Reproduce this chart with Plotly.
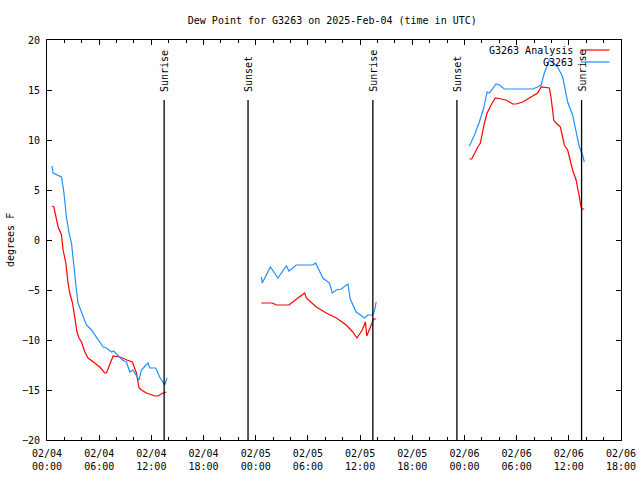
import plotly.graph_objects as go

# ---------------- data ----------------
series_names = ["G3263 Analysis", "G3263"]

analysis_times = [
    "2025-02-04 00:35", "2025-02-04 00:47", "2025-02-04 01:17", "2025-02-04 01:40", "2025-02-04 01:51",
    "2025-02-04 02:10", "2025-02-04 02:25", "2025-02-04 02:37", "2025-02-04 02:56", "2025-02-04 03:12",
    "2025-02-04 03:27", "2025-02-04 03:41", "2025-02-04 03:58", "2025-02-04 04:21", "2025-02-04 04:43",
    "2025-02-04 05:29", "2025-02-04 06:04", "2025-02-04 06:38", "2025-02-04 06:50", "2025-02-04 07:36",
    "2025-02-04 08:22", "2025-02-04 09:12", "2025-02-04 09:49", "2025-02-04 10:17", "2025-02-04 10:35",
    "2025-02-04 10:51", "2025-02-04 11:26", "2025-02-04 12:23", "2025-02-04 12:46", "2025-02-04 13:20",
    "2025-02-04 13:44",
    "2025-02-04 19:00",
    "2025-02-05 00:39", "2025-02-05 01:54", "2025-02-05 02:22", "2025-02-05 03:49", "2025-02-05 04:51",
    "2025-02-05 05:37", "2025-02-05 05:49", "2025-02-05 06:58", "2025-02-05 08:07", "2025-02-05 09:16",
    "2025-02-05 10:24", "2025-02-05 11:10", "2025-02-05 11:38", "2025-02-05 12:15", "2025-02-05 12:37",
    "2025-02-05 12:46", "2025-02-05 13:17", "2025-02-05 13:33", "2025-02-05 13:51",
    "2025-02-05 19:00",
    "2025-02-06 00:34", "2025-02-06 00:50", "2025-02-06 01:32", "2025-02-06 01:50", "2025-02-06 02:18",
    "2025-02-06 02:36", "2025-02-06 03:04", "2025-02-06 03:32", "2025-02-06 04:13", "2025-02-06 04:47",
    "2025-02-06 05:33", "2025-02-06 05:56", "2025-02-06 06:42", "2025-02-06 07:16", "2025-02-06 07:51",
    "2025-02-06 08:25", "2025-02-06 08:49", "2025-02-06 09:46", "2025-02-06 09:58", "2025-02-06 10:16",
    "2025-02-06 10:32", "2025-02-06 11:02", "2025-02-06 11:29", "2025-02-06 11:52", "2025-02-06 12:26",
    "2025-02-06 12:50", "2025-02-06 13:13", "2025-02-06 13:24", "2025-02-06 13:35", "2025-02-06 13:47",
]
analysis_values = [
    3.4, 3.3, 1.3, 0.5, -1.0,
    -2.3, -4.3, -5.3, -6.3, -8.0,
    -9.2, -9.8, -10.2, -11.2, -11.8,
    -12.3, -12.7, -13.3, -13.3, -11.6,
    -11.7, -12.0, -12.2, -13.3, -14.8,
    -15.0, -15.3, -15.6, -15.6, -15.3,
    -15.2,
    None,
    -6.3, -6.3, -6.5, -6.5, -5.8,
    -5.3, -5.8, -6.7, -7.3, -7.8,
    -8.5, -9.2, -9.8, -9.0, -8.2,
    -9.6, -8.5, -7.9, -7.9,
    None,
    8.1, 8.1, 9.3, 9.7, 11.7,
    12.7, 13.5, 14.2, 14.1, 14.0,
    13.6, 13.6, 13.8, 14.1, 14.4,
    14.7, 15.3, 15.2, 14.2, 12.0,
    11.7, 11.3, 9.5, 9.0, 7.0,
    6.0, 4.3, 3.3, 3.1, 3.1,
]

station_times = [
    "2025-02-04 00:35", "2025-02-04 00:42", "2025-02-04 01:40", "2025-02-04 01:47", "2025-02-04 01:56",
    "2025-02-04 02:14", "2025-02-04 02:32", "2025-02-04 02:49", "2025-02-04 03:00", "2025-02-04 03:12",
    "2025-02-04 03:23", "2025-02-04 03:34", "2025-02-04 03:51", "2025-02-04 04:09", "2025-02-04 04:32",
    "2025-02-04 05:07", "2025-02-04 05:41", "2025-02-04 06:04", "2025-02-04 06:27", "2025-02-04 06:50",
    "2025-02-04 07:25", "2025-02-04 07:40", "2025-02-04 08:10", "2025-02-04 08:40", "2025-02-04 09:08",
    "2025-02-04 09:31", "2025-02-04 09:53", "2025-02-04 10:12", "2025-02-04 10:35", "2025-02-04 10:51",
    "2025-02-04 11:37", "2025-02-04 11:49", "2025-02-04 12:30", "2025-02-04 12:57", "2025-02-04 13:32",
    "2025-02-04 13:48",
    "2025-02-04 19:00",
    "2025-02-05 00:39", "2025-02-05 00:45", "2025-02-05 01:41", "2025-02-05 02:33", "2025-02-05 03:31",
    "2025-02-05 03:49", "2025-02-05 04:40", "2025-02-05 06:34", "2025-02-05 06:53", "2025-02-05 07:43",
    "2025-02-05 08:29", "2025-02-05 08:48", "2025-02-05 09:16", "2025-02-05 09:50", "2025-02-05 10:36",
    "2025-02-05 10:52", "2025-02-05 11:33", "2025-02-05 12:31", "2025-02-05 12:53", "2025-02-05 13:28",
    "2025-02-05 13:40", "2025-02-05 13:51",
    "2025-02-05 19:00",
    "2025-02-06 00:34", "2025-02-06 01:09", "2025-02-06 01:43", "2025-02-06 02:13", "2025-02-06 02:36",
    "2025-02-06 02:52", "2025-02-06 03:38", "2025-02-06 04:01", "2025-02-06 04:36", "2025-02-06 07:51",
    "2025-02-06 08:25", "2025-02-06 08:49", "2025-02-06 09:11", "2025-02-06 09:46", "2025-02-06 10:20",
    "2025-02-06 10:43", "2025-02-06 11:18", "2025-02-06 11:52", "2025-02-06 12:26", "2025-02-06 12:50",
    "2025-02-06 13:13", "2025-02-06 13:35", "2025-02-06 13:47",
]
station_values = [
    7.4, 6.7, 6.3, 5.8, 4.8,
    2.3, 0.7, -0.3, -2.0, -3.3,
    -5.0, -6.3, -7.0, -7.7, -8.5,
    -9.0, -9.7, -10.2, -10.7, -10.8,
    -11.2, -11.1, -11.5, -12.0, -12.2,
    -13.2, -13.0, -13.5, -14.0, -13.0,
    -12.3, -12.8, -12.8, -13.7, -14.5,
    -13.8,
    None,
    -3.7, -4.3, -2.7, -3.8, -2.6,
    -3.1, -2.5, -2.5, -2.3, -3.8,
    -4.3, -5.3, -5.0, -4.9, -4.4,
    -5.9, -7.2, -7.8, -7.5, -7.5,
    -7.0, -6.2,
    None,
    9.4, 10.5, 11.8, 13.2, 14.8,
    14.7, 15.6, 15.5, 15.1, 15.1,
    15.3, 15.5, 16.7, 18.0, 17.6,
    17.3, 16.3, 13.8, 12.5, 10.7,
    9.3, 8.5, 7.8,
]

sun_event_times = ["2025-02-04 13:28", "2025-02-04 23:07", "2025-02-05 13:28",
                   "2025-02-05 23:08", "2025-02-06 13:28"]
sun_event_labels = ["Sunrise", "Sunset", "Sunrise", "Sunset", "Sunrise"]
sun_line_top = 14

x_range = ["2025-02-04 00:00", "2025-02-06 18:00"]
y_range = [-20, 20]

title_text = "Dew Point for G3263 on 2025-Feb-04 (time in UTC)"
y_title = "degrees F"

# ---------------- style ----------------
FONT = "DejaVu Sans Mono"
RED = "#ff0000"
BLUE = "#1e90ff"

fig = go.Figure()
fig.add_trace(go.Scatter(x=analysis_times, y=analysis_values, mode="lines",
                         name=series_names[0], line=dict(color=RED, width=1.2),
                         connectgaps=False, showlegend=False))
fig.add_trace(go.Scatter(x=station_times, y=station_values, mode="lines",
                         name=series_names[1], line=dict(color=BLUE, width=1.2),
                         connectgaps=False, showlegend=False))

shapes = []
annotations = []
for t, lab in zip(sun_event_times, sun_event_labels):
    shapes.append(dict(type="line", xref="x", yref="y", x0=t, x1=t,
                       y0=sun_line_top, y1=y_range[0],
                       line=dict(color="black", width=1.3)))
    annotations.append(dict(x=t, y=sun_line_top, xref="x", yref="y", text=lab,
                            textangle=-90, showarrow=False, xanchor="center",
                            yanchor="bottom", yshift=6,
                            font=dict(family=FONT, size=10, color="black")))

# legend (gnuplot style: text left, sample right)
W, H = 640, 480
L, R, T, B = 47, 18.5, 40, 40
pw, ph = W - L - R, H - T - B
def px(xp):
    return (xp - L) / pw
def py(yp):
    return 1 - (yp - T) / ph

legend_rows = [50, 62]
legend_colors = [RED, BLUE]
for name, row, col in zip(series_names, legend_rows, legend_colors):
    annotations.append(dict(x=px(575), y=py(row), xref="paper", yref="paper",
                            text=name, showarrow=False, xanchor="right",
                            yanchor="middle",
                            font=dict(family=FONT, size=10, color="black")))
    shapes.append(dict(type="line", xref="paper", yref="paper",
                       x0=px(581), x1=px(610), y0=py(row), y1=py(row),
                       line=dict(color=col, width=1.2)))

annotations.append(dict(x=px(10), y=0.5, xref="paper", yref="paper",
                        text=y_title, textangle=-90, showarrow=False,
                        xanchor="center", yanchor="middle",
                        font=dict(family=FONT, size=10, color="black")))

fig.update_layout(
    width=W, height=H,
    margin=dict(l=L, r=R, t=T, b=B, pad=0, autoexpand=False),
    paper_bgcolor="white", plot_bgcolor="white",
    font=dict(family=FONT, size=10, color="black"),
    title=dict(text=title_text, xref="paper", x=0.497, xanchor="center",
               y=1 - 20 / H, yanchor="middle",
               font=dict(family=FONT, size=10, color="black")),
    shapes=shapes, annotations=annotations,
    showlegend=False,
)
fig.update_xaxes(
    type="date", range=x_range, automargin=False,
    showgrid=False, zeroline=False,
    showline=True, linecolor="black", linewidth=1, mirror="ticks",
    ticks="inside", ticklen=5, tickcolor="black", tickwidth=1,
    dtick=6 * 3600 * 1000, tick0="2025-02-04 00:00",
    tickformat="%m/%d<br>%H:%M",
    minor=dict(ticks="inside", ticklen=3, dtick=2 * 3600 * 1000,
               tick0="2025-02-04 00:00", tickcolor="black", showgrid=False),
    ticklabelstandoff=4,
    tickfont=dict(family=FONT, size=10, color="black"),
)
fig.update_yaxes(
    range=y_range, dtick=5, tick0=0, automargin=False,
    showgrid=False, zeroline=False,
    showline=True, linecolor="black", linewidth=1, mirror="ticks",
    ticks="inside", ticklen=5, tickcolor="black", tickwidth=1,
    ticklabelstandoff=4,
    tickfont=dict(family=FONT, size=10, color="black"),
)

fig.write_html("out.html", config={"displayModeBar": False},
               post_script="document.body.style.margin='0';document.body.style.padding='0';")
